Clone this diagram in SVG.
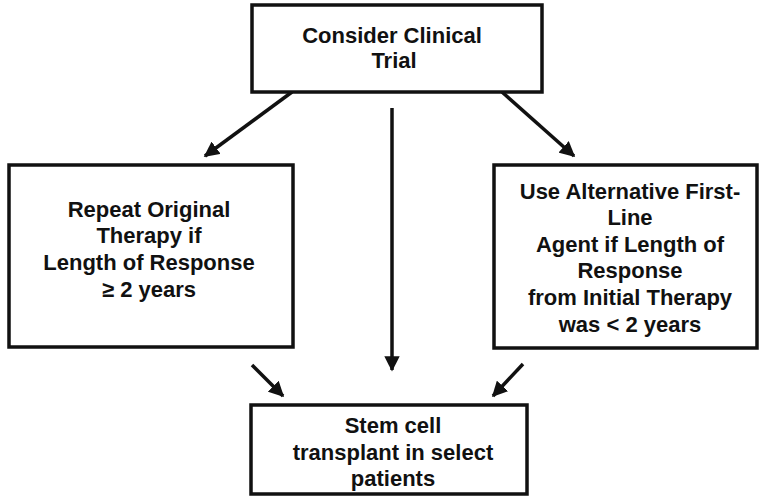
<svg xmlns="http://www.w3.org/2000/svg" width="763" height="497" viewBox="0 0 763 497">
<style>
.box{fill:#fff;stroke:#111;stroke-width:3.5}
.t{font-family:"Liberation Sans",Arial,sans-serif;font-weight:bold;font-size:22px;fill:#111;text-anchor:middle}
.c{stroke:#111;stroke-width:3.5;fill:none}
</style>
<defs>
<marker id="ah" viewBox="0 0 10 10" refX="9" refY="5" markerWidth="4.4" markerHeight="4.4" orient="auto" markerUnits="strokeWidth">
<path d="M0,0 L10,5 L0,10 z" fill="#111"/>
</marker>
</defs>
<rect width="763" height="497" fill="#fff"/>
<g id="connectors">
<line class="c" x1="292" y1="92" x2="205" y2="156" marker-end="url(#ah)"/>
<line class="c" x1="502" y1="92" x2="574" y2="156" marker-end="url(#ah)"/>
<line class="c" x1="392" y1="108" x2="392" y2="370" marker-end="url(#ah)"/>
<line class="c" x1="252" y1="365" x2="283" y2="396" marker-end="url(#ah)"/>
<line class="c" x1="523" y1="364" x2="493" y2="396" marker-end="url(#ah)"/>
</g>
<g id="trial">
<rect class="box" x="252" y="5" width="290" height="87"/>
<text class="t" x="392" y="43">Consider Clinical</text>
<text class="t" x="394" y="68">Trial</text>
</g>
<g id="repeat">
<rect class="box" x="9" y="165" width="284" height="182"/>
<text class="t" x="149" y="217">Repeat Original</text>
<text class="t" x="149" y="243">Therapy if</text>
<text class="t" x="149" y="270">Length of Response</text>
<text class="t" x="149" y="297">≥ 2 years</text>
</g>
<g id="alternative">
<rect class="box" x="494" y="165" width="263" height="183"/>
<text class="t" x="630" y="199">Use Alternative First-</text>
<text class="t" x="630" y="225">Line</text>
<text class="t" x="630" y="252">Agent if Length of</text>
<text class="t" x="630" y="278">Response</text>
<text class="t" x="630" y="305">from Initial Therapy</text>
<text class="t" x="630" y="332">was &lt; 2 years</text>
</g>
<g id="transplant">
<rect class="box" x="251" y="405" width="276" height="89"/>
<text class="t" x="393" y="433">Stem cell</text>
<text class="t" x="393" y="460">transplant in select</text>
<text class="t" x="393" y="486">patients</text>
</g>
</svg>
